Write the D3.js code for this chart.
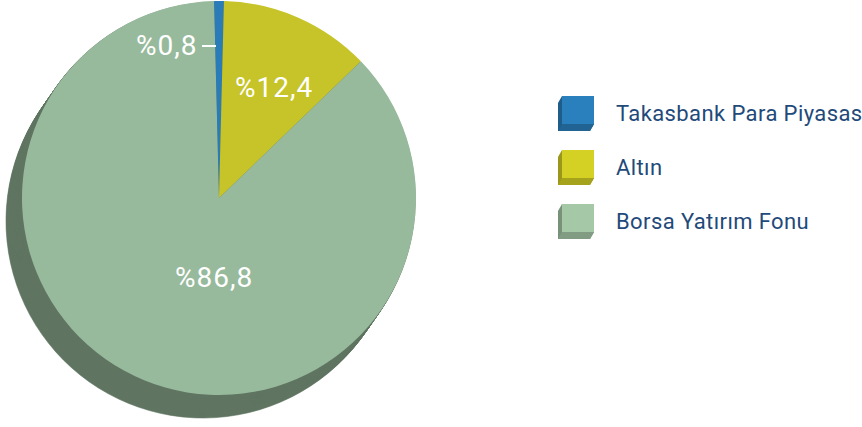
<!DOCTYPE html>
<html>
<head>
<meta charset="utf-8">
<script src="https://cdn.jsdelivr.net/npm/d3@7"></script>
<style>
  html, body { margin: 0; padding: 0; background: #fff; }
  svg { display: block; font-family: Roboto, "Noto Sans", sans-serif; }
</style>
</head>
<body>
<div id="chart"></div>
<script>
const categories = ["Takasbank Para Piyasası", "Altın", "Borsa Yatırım Fonu"];
const values = [0.8, 12.4, 86.8];
const labels = ["%0,8", "%12,4", "%86,8"];
const colors = ["#2a7cb8", "#c6c428", "#98ba9c"];
const legendColors = ["#2a7fbd", "#d4d024", "#a5c8a7"];

const W = 862, H = 427;
const cx = 219, cy = 198, R = 197;
const depth = {x: -16, y: 23};

const data = categories.map((c, i) => ({name: c, value: values[i], label: labels[i], color: colors[i], lcolor: legendColors[i]}));

const svg = d3.select("#chart").append("svg")
  .attr("width", W)
  .attr("height", H);

const pie = d3.pie()
  .value(d => d.value)
  .sort(null)
  .startAngle(-0.025)
  .endAngle(2 * Math.PI - 0.025);

const arcs = pie(data);
const arc = d3.arc().innerRadius(0).outerRadius(R);

// extruded side (drawn back to front)
const steps = d3.range(24, 0, -1);
const side = svg.append("g");
steps.forEach(k => {
  const t = k / 24;
  side.append("g")
    .attr("transform", `translate(${cx + depth.x * t},${cy + depth.y * t})`)
    .selectAll("path")
    .data(arcs)
    .join("path")
    .attr("d", arc)
    .attr("fill", d => d3.color(d.data.color).darker(1.3))
    .attr("stroke", d => d3.color(d.data.color).darker(1.3))
    .attr("stroke-width", 0.6);
});

const face = svg.append("g").attr("transform", `translate(${cx},${cy})`);
face.selectAll("path")
  .data(arcs)
  .join("path")
  .attr("d", arc)
  .attr("fill", d => d.data.color);

// labels
const labelPos = [
  {x: -83, y: -143},
  {x: 16, y: -101},
  {x: -44, y: 89}
];
face.selectAll("text.lbl")
  .data(arcs)
  .join("text")
  .attr("class", "lbl")
  .attr("x", (d, i) => labelPos[i].x)
  .attr("y", (d, i) => labelPos[i].y)
  .attr("fill", "#fff")
  .attr("font-size", 28)
  .attr("letter-spacing", 1)
  .text(d => d.data.label);

// leader line for small slice
face.append("line")
  .attr("x1", -17).attr("x2", -3)
  .attr("y1", -152).attr("y2", -152)
  .attr("stroke", "#fff")
  .attr("stroke-width", 2);

// legend
const ly = d3.scalePoint().domain(categories).range([96, 204]);
const bw = 32, bh = 28, dx = -4, dy = 7;
const lg = svg.append("g").attr("transform", "translate(562,0)");
const items = lg.selectAll("g.item")
  .data(data)
  .join("g")
  .attr("class", "item")
  .attr("transform", d => `translate(0,${ly(d.name)})`);

items.append("path")
  .attr("d", `M0,0 L${bw},0 L${bw},${bh} L${bw + dx},${bh + dy} L${dx},${bh + dy} L${dx},${dy} Z`)
  .attr("fill", d => d3.color(d.lcolor).darker(0.9));
items.append("path")
  .attr("d", `M${bw},${bh} L${bw + dx},${bh + dy} L${dx},${bh + dy} L0,${bh} Z`)
  .attr("fill", d => d3.color(d.lcolor).darker(0.7));
items.append("rect")
  .attr("width", bw)
  .attr("height", bh)
  .attr("fill", d => d.lcolor);

items.append("text")
  .attr("x", 54)
  .attr("y", 25)
  .attr("fill", "#1f4a7a")
  .attr("font-size", 22)
  .attr("letter-spacing", 0.4)
  .text(d => d.name);
</script>
</body>
</html>
